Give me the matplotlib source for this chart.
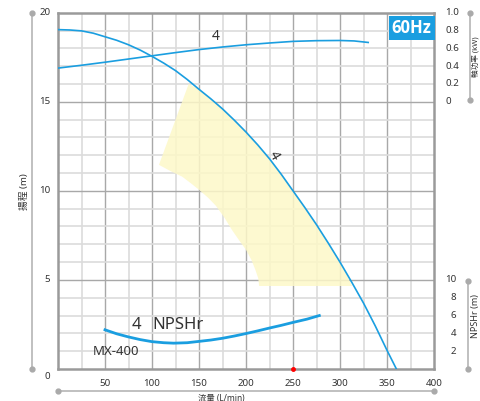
import numpy as np
import matplotlib.pyplot as plt
from matplotlib.lines import Line2D

plt.rcParams['font.family'] = ['Noto Sans', 'Noto Sans CJK JP', 'DejaVu Sans']

# Q-H curve (L/min, m)
q_head = [0, 12.5, 25, 37.5, 50, 62.5, 75, 87.5, 100, 112.5, 125, 137.5, 150, 162.5, 175, 187.5,
          200, 212.5, 225, 237.5, 250, 262.5, 275, 287.5, 300, 312.5, 325, 337.5, 350, 360]
head = [19.05, 19.03, 18.98, 18.85, 18.65, 18.45, 18.2, 17.9, 17.55, 17.17, 16.75, 16.25, 15.7, 15.17,
        14.6, 13.97, 13.3, 12.58, 11.8, 10.93, 10.0, 9.07, 8.1, 7.07, 6.0, 4.87, 3.7, 2.42, 1.05, 0.0]

# shaft power (kW)
q_power = [0, 25, 50, 75, 100, 125, 150, 175, 200, 225, 250, 275, 300, 315, 330]
power = [0.378, 0.41, 0.444, 0.48, 0.516, 0.552, 0.586, 0.615, 0.64, 0.66, 0.678, 0.686, 0.688, 0.683, 0.666]

# NPSHr (m)
q_npsh = [50, 62.5, 75, 87.5, 100, 112.5, 123, 137.5, 150, 162.5, 175, 187.5, 200, 212.5, 225, 237.5, 250, 265, 278]
npsh = [4.4, 3.95, 3.6, 3.3, 3.07, 2.95, 2.9, 2.95, 3.1, 3.25, 3.45, 3.7, 3.98, 4.28, 4.6, 4.9, 5.23, 5.6, 6.0]

# usable range (yellow band)
band_q = [107.4, 120, 132, 142, 150, 160, 168, 177, 185, 193, 200, 206, 210, 213, 214,
          313, 300, 287.5, 275, 262.5, 250, 237.5, 225, 212.5, 200, 187.5, 175, 162.5, 150, 139]
band_h = [11.46, 11.1, 10.8, 10.4, 10.06, 9.6, 9.16, 8.5, 7.81, 7.2, 6.69, 6.1, 5.56, 5.1, 4.66,
          4.66, 6.0, 7.07, 8.1, 9.07, 10.0, 10.93, 11.8, 12.58, 13.3, 13.97, 14.6, 15.17, 15.7, 16.0]

power_ticks = [0, 0.2, 0.4, 0.6, 0.8, 1.0]
npsh_ticks = [2, 4, 6, 8, 10]
x_ticks = [50, 100, 150, 200, 250, 300, 350, 400]
y_ticks = [0, 5, 10, 15, 20]

blue = '#1a9ee0'
txt = '#333333'
W, H = 481, 401

fig = plt.figure(figsize=(4.81, 4.01), dpi=100)
ax = fig.add_axes([58/W, 1-369/H, (434-58)/W, (369-12.7)/H])
ax.set_xlim(0, 400)
ax.set_ylim(0, 20)

# grid
for x in np.arange(25, 400, 25):
    major = x % 50 == 0
    ax.axvline(x, color='#a8a8a8' if major else '#dcdcdc', lw=1.0 if major else 1.2, zorder=1)
for y in np.arange(1, 20, 1):
    major = y % 5 == 0
    ax.axhline(y, color='#a8a8a8' if major else '#dcdcdc', lw=1.0 if major else 1.2, zorder=1)
for s in ax.spines.values():
    s.set_color('#9a9a9a')
    s.set_linewidth(1.8)
ax.set_xticks([])
ax.set_yticks([])

ax.fill(band_q, band_h, color='#fdf8c8', alpha=0.85, lw=0, zorder=2)

ax.plot(q_head, head, color=blue, lw=1.2, zorder=3)
ax.plot(q_power, [15 + 5*p for p in power], color=blue, lw=1.2, zorder=3)
ax.plot(q_npsh, [n/2 for n in npsh], color=blue, lw=2.0, zorder=3)
ax.plot([250], [0], 'o', color='red', ms=2.5, zorder=5, clip_on=False)

ax.text(168, 18.65, '4', fontsize=10, color=txt, ha='center', va='center')
ax.text(230, 12.0, '4', fontsize=10, color=txt, ha='center', va='center', rotation=-60)
ax.text(83, 2.45, '4', fontsize=12, color=txt, ha='center', va='center')
ax.text(100, 2.45, 'NPSHr', fontsize=12, color=txt, ha='left', va='center')
ax.text(62, 1.0, 'MX-400', fontsize=9.5, color=txt, ha='center', va='center')

# tick labels
for x in x_ticks:
    ax.text(x, -0.8, str(x), fontsize=7, color=txt, ha='center', va='center')
for y in y_ticks[1:]:
    ax.text(-8, y, str(y), fontsize=7, color=txt, ha='right', va='center')
ax.text(-8, -0.4, '0', fontsize=7, color=txt, ha='right', va='center')
for p in power_ticks:
    lab = '0' if p == 0 else '%.1f' % p
    ax.text(412, 15 + 5*p, lab, fontsize=7, color=txt, ha='left', va='center', clip_on=False)
for n in npsh_ticks:
    ax.text(418 if n < 10 else 412, n/2, str(n), fontsize=7, color=txt, ha='left', va='center', clip_on=False)

# 60Hz box
ax.text(397.5, 19.65, '60Hz', fontsize=12, color='white', fontweight='bold', family='Open Sans',
        ha='right', va='top', bbox=dict(boxstyle='square,pad=0.18', fc=blue, ec='none'), zorder=6)

# outer axis lines with end dots
def fx(px):
    return px / W

def fy(py):
    return 1 - py / H

grey = '#b5b5b5'
for (x0, y0, x1, y1) in [(32, 12.7, 32, 369), (58, 391, 434, 391), (470, 12.7, 470, 100), (468, 281, 468, 369)]:
    fig.add_artist(Line2D([fx(x0), fx(x1)], [fy(y0), fy(y1)], color=grey, lw=1.2))
    fig.add_artist(Line2D([fx(x0), fx(x1)], [fy(y0), fy(y1)], color='#aaaaaa', lw=0,
                          marker='o', ms=3.5))

fig.text(fx(24), fy(192), '揚程 (m)', rotation=90, fontsize=7, color=txt, ha='center', va='center')
fig.text(fx(221), fy(398), '流量 (L/min)', fontsize=6, color=txt, ha='center', va='center')
fig.text(fx(476), fy(57), '軸功率 (kW)', rotation=90, fontsize=5.5, color=txt, ha='center', va='center')
fig.text(fx(476), fy(316), 'NPSHr (m)', rotation=90, fontsize=6.5, color=txt, ha='center', va='center')

plt.savefig('out.png', dpi=100)
